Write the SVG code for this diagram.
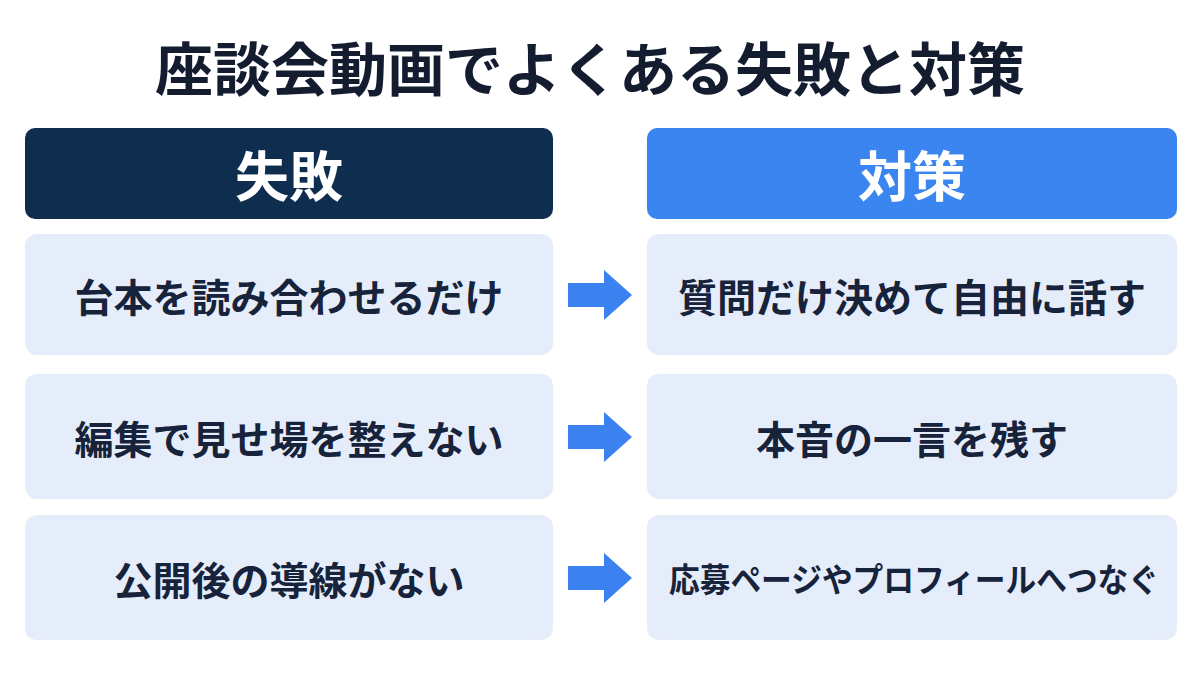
<svg xmlns="http://www.w3.org/2000/svg" width="1200" height="675" viewBox="0 0 1200 675">
<style>
text{font-family:"Noto Sans CJK JP","Noto Sans",sans-serif;font-weight:bold;text-anchor:middle;dominant-baseline:central}
.row{fill:#e5edfa}
.t{font-size:39px;fill:#16233a}
.h{font-size:54px;fill:#fff}
.ar{fill:#3b82f0}
</style>
<rect width="1200" height="675" fill="#fff"/>
<text x="590" y="66" style="font-size:58px;fill:#141c30">座談会動画でよくある失敗と対策</text>
<g id="head-fail"><rect x="25" y="128" width="528" height="91" rx="10" fill="#0f2d4f"/><text class="h" x="289" y="173">失敗</text></g>
<g id="head-fix"><rect x="647" y="128" width="530" height="91" rx="10" fill="#3a85f0"/><text class="h" x="912" y="173">対策</text></g>
<g id="f1"><rect class="row" x="25" y="234" width="528" height="121" rx="12"/><text class="t" x="289" y="295">台本を読み合わせるだけ</text></g>
<g id="f2"><rect class="row" x="25" y="374" width="528" height="125" rx="12"/><text class="t" x="289" y="437">編集で見せ場を整えない</text></g>
<g id="f3"><rect class="row" x="25" y="515" width="528" height="125" rx="12"/><text class="t" x="289" y="578">公開後の導線がない</text></g>
<g id="s1"><rect class="row" x="647" y="234" width="530" height="121" rx="12"/><text class="t" x="912" y="295">質問だけ決めて自由に話す</text></g>
<g id="s2"><rect class="row" x="647" y="374" width="530" height="125" rx="12"/><text class="t" x="912" y="437">本音の一言を残す</text></g>
<g id="s3"><rect class="row" x="647" y="515" width="530" height="125" rx="12"/><text class="t" x="914" y="578" style="font-size:33px" textLength="490" lengthAdjust="spacingAndGlyphs">応募ページやプロフィールへつなぐ</text></g>
<g id="connectors">
<polygon class="ar" points="568,283 604,283 604,270 632,295 604,320 604,307 568,307"/>
<polygon class="ar" points="568,425 604,425 604,412 632,437 604,462 604,449 568,449"/>
<polygon class="ar" points="568,566 604,566 604,553 632,578 604,603 604,590 568,590"/>
</g>
</svg>
